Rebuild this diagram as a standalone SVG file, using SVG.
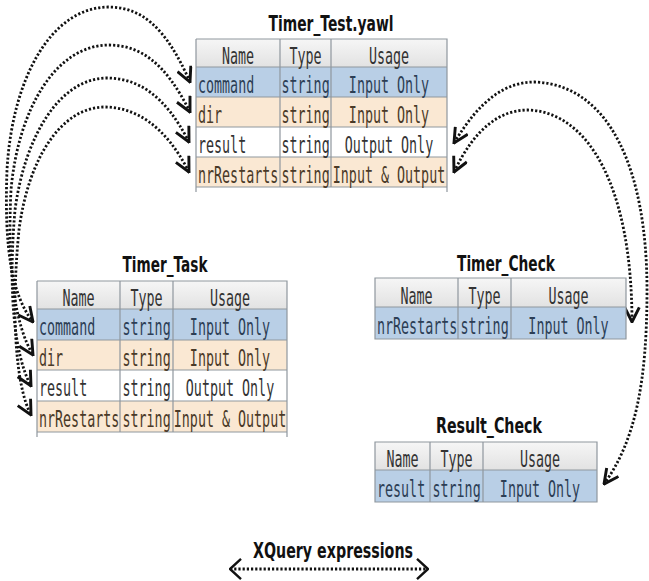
<svg xmlns="http://www.w3.org/2000/svg" width="649" height="581" viewBox="0 0 649 581">
<style>
.title{font-family:"DejaVu Sans","Liberation Sans",sans-serif;font-weight:bold;font-size:22px;fill:#111;text-anchor:middle}
.cell{font-family:"DejaVu Sans Mono","Liberation Mono",monospace;font-size:23px;fill:#333}
.c{text-anchor:middle}
.blue{fill:#b9cfe6}
.beige{fill:#fae8d3}
.white{fill:#ffffff}
.grid{stroke:#8f979e;stroke-width:1.2;fill:none}
.tb{fill:#2c3e55}
.tr{fill:#4a3a28}
.conn{fill:none;stroke:#111;stroke-width:2.8;stroke-dasharray:2.2 2}
</style>
<defs>
<linearGradient id="hg" x1="0" y1="0" x2="0" y2="1"><stop offset="0" stop-color="#f6f6f6"/><stop offset="1" stop-color="#e2e2e2"/></linearGradient>
<marker id="ah" viewBox="0 0 14 14" refX="13" refY="7" markerWidth="17" markerHeight="17" markerUnits="userSpaceOnUse" orient="auto-start-reverse">
<path d="M1,1 L13,7 L1,13" fill="none" stroke="#111" stroke-width="2.4"/>
</marker>
<marker id="lg" viewBox="0 0 14 24" refX="13" refY="12" markerWidth="13" markerHeight="22" markerUnits="userSpaceOnUse" orient="auto-start-reverse">
<path d="M1,1 L13,12 L1,23" fill="none" stroke="#111" stroke-width="2.6"/>
</marker>
</defs>
<rect width="649" height="581" fill="#ffffff"/>

<g id="connectors">
<path class="conn" marker-start="url(#ah)" marker-end="url(#ah)" d="M190,82 C165,25 140,7 108,7 C50,8 12,80 7,170 C4,250 12,295 33,322"/>
<path class="conn" marker-start="url(#ah)" marker-end="url(#ah)" d="M190,112 C165,62 140,45 108,45 C55,46 18,110 11,190 C7,270 15,325 33,355"/>
<path class="conn" marker-start="url(#ah)" marker-end="url(#ah)" d="M189,142 C165,95 138,78 106,78 C60,79 25,135 15,210 C8,290 14,355 31,386"/>
<path class="conn" marker-start="url(#ah)" marker-end="url(#ah)" d="M189,172 C165,125 135,107 104,107 C60,108 28,160 19,230 C11,310 15,385 31,415"/>
<path class="conn" marker-start="url(#ah)" marker-end="url(#ah)" d="M454,143 C480,100 505,82 535,82 C610,85 647,170 647,290 C647,380 636,440 604,484"/>
<path class="conn" marker-start="url(#ah)" marker-end="url(#ah)" d="M454,172 C475,128 500,110 528,110 C590,112 632,190 632,322"/>
<path class="conn" marker-start="url(#lg)" marker-end="url(#lg)" d="M230,569 L428,569"/>
</g>

<g id="timer_test">
<text class="title" x="331" y="31" textLength="125" lengthAdjust="spacingAndGlyphs">Timer_Test.yawl</text>
<rect x="196" y="39" width="251" height="28" fill="url(#hg)"/>
<rect class="blue" x="196" y="67" width="251" height="30"/>
<rect class="beige" x="196" y="97" width="251" height="30"/>
<rect class="white" x="196" y="127" width="251" height="30"/>
<rect class="beige" x="196" y="157" width="251" height="30"/>
<path class="grid" d="M196,39 H447 V192 M196,39 V192 M196,67 H447 M196,97 H447 M196,127 H447 M196,157 H447 M196,187 H447 M280,39 V187 M331,39 V187"/>
<text class="cell c" transform="translate(238,64) scale(0.58,1)">Name</text>
<text class="cell c" transform="translate(305.5,64) scale(0.58,1)">Type</text>
<text class="cell c" transform="translate(389,64) scale(0.58,1)">Usage</text>
<text class="cell tb" transform="translate(198,93) scale(0.58,1)">command</text>
<text class="cell tb" transform="translate(281.5,93) scale(0.58,1)">string</text>
<text class="cell tb c" transform="translate(389,93) scale(0.58,1)">Input Only</text>
<text class="cell tr" transform="translate(198,123) scale(0.58,1)">dir</text>
<text class="cell tr" transform="translate(281.5,123) scale(0.58,1)">string</text>
<text class="cell tr c" transform="translate(389,123) scale(0.58,1)">Input Only</text>
<text class="cell" transform="translate(198,153) scale(0.58,1)">result</text>
<text class="cell" transform="translate(281.5,153) scale(0.58,1)">string</text>
<text class="cell c" transform="translate(389,153) scale(0.58,1)">Output Only</text>
<text class="cell tr" transform="translate(198,183) scale(0.58,1)">nrRestarts</text>
<text class="cell tr" transform="translate(281.5,183) scale(0.58,1)">string</text>
<text class="cell tr c" transform="translate(389,183) scale(0.58,1)">Input &amp; Output</text>
</g>

<g id="timer_task">
<text class="title" x="165" y="272" textLength="85" lengthAdjust="spacingAndGlyphs">Timer_Task</text>
<rect x="37" y="281" width="250" height="28" fill="url(#hg)"/>
<rect class="blue" x="37" y="309" width="250" height="31"/>
<rect class="beige" x="37" y="340" width="250" height="30"/>
<rect class="white" x="37" y="370" width="250" height="31"/>
<rect class="beige" x="37" y="401" width="250" height="31"/>
<path class="grid" d="M37,281 H287 V437 M37,281 V437 M37,309 H287 M37,340 H287 M37,370 H287 M37,401 H287 M37,432 H287 M120,281 V432 M173,281 V432"/>
<text class="cell c" transform="translate(78.5,306) scale(0.58,1)">Name</text>
<text class="cell c" transform="translate(146.5,306) scale(0.58,1)">Type</text>
<text class="cell c" transform="translate(230,306) scale(0.58,1)">Usage</text>
<text class="cell tb" transform="translate(39,335) scale(0.58,1)">command</text>
<text class="cell tb" transform="translate(122.5,335) scale(0.58,1)">string</text>
<text class="cell tb c" transform="translate(230,335) scale(0.58,1)">Input Only</text>
<text class="cell tr" transform="translate(39,366) scale(0.58,1)">dir</text>
<text class="cell tr" transform="translate(122.5,366) scale(0.58,1)">string</text>
<text class="cell tr c" transform="translate(230,366) scale(0.58,1)">Input Only</text>
<text class="cell" transform="translate(39,396) scale(0.58,1)">result</text>
<text class="cell" transform="translate(122.5,396) scale(0.58,1)">string</text>
<text class="cell c" transform="translate(230,396) scale(0.58,1)">Output Only</text>
<text class="cell tr" transform="translate(39,427) scale(0.58,1)">nrRestarts</text>
<text class="cell tr" transform="translate(122.5,427) scale(0.58,1)">string</text>
<text class="cell tr c" transform="translate(230,427) scale(0.58,1)">Input &amp; Output</text>
</g>

<g id="timer_check">
<text class="title" x="506" y="271" textLength="98" lengthAdjust="spacingAndGlyphs">Timer_Check</text>
<rect x="375" y="278" width="251" height="29" fill="url(#hg)"/>
<rect class="blue" x="375" y="307" width="251" height="32"/>
<path class="grid" d="M375,278 H626 V339 H375 Z M375,307 H626 M458,278 V339 M511,278 V339"/>
<text class="cell c" transform="translate(416.5,304) scale(0.58,1)">Name</text>
<text class="cell c" transform="translate(484.5,304) scale(0.58,1)">Type</text>
<text class="cell c" transform="translate(568.5,304) scale(0.58,1)">Usage</text>
<text class="cell tb" transform="translate(377,334) scale(0.58,1)">nrRestarts</text>
<text class="cell tb" transform="translate(460.5,334) scale(0.58,1)">string</text>
<text class="cell tb c" transform="translate(568.5,334) scale(0.58,1)">Input Only</text>
</g>

<g id="result_check">
<text class="title" x="489" y="433" textLength="106" lengthAdjust="spacingAndGlyphs">Result_Check</text>
<rect x="375" y="442" width="222" height="28" fill="url(#hg)"/>
<rect class="blue" x="375" y="470" width="222" height="32"/>
<path class="grid" d="M375,442 H597 V502 H375 Z M375,470 H597 M430,442 V502 M483,442 V502"/>
<text class="cell c" transform="translate(402.5,467) scale(0.58,1)">Name</text>
<text class="cell c" transform="translate(456.5,467) scale(0.58,1)">Type</text>
<text class="cell c" transform="translate(540,467) scale(0.58,1)">Usage</text>
<text class="cell tb" transform="translate(377,497) scale(0.58,1)">result</text>
<text class="cell tb" transform="translate(432.5,497) scale(0.58,1)">string</text>
<text class="cell tb c" transform="translate(540,497) scale(0.58,1)">Input Only</text>
</g>

<g id="legend">
<text class="title" x="333" y="558" textLength="160" lengthAdjust="spacingAndGlyphs">XQuery expressions</text>
</g>
</svg>
